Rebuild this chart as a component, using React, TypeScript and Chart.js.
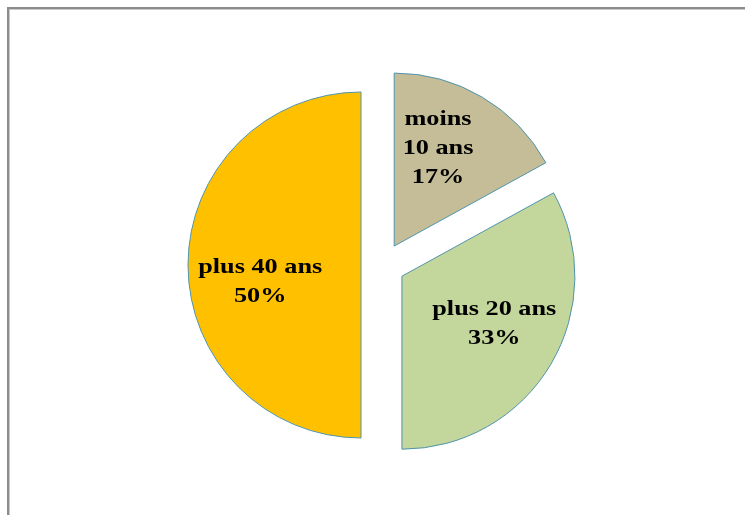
import React, { useEffect, useRef } from "react";
import { Chart, registerables } from "chart.js";

Chart.register(...registerables);

const categories: string[][] = [["moins", "10 ans", "17%"], ["plus 20 ans", "33%"], ["plus 40 ans", "50%"]];
const values: number[] = [17, 33, 50];
const colors: string[] = ["#C4BD97", "#C3D69B", "#FFC000"];
const labelNudge: number[][] = [[-9, -8], [3, -5], [3, 17]];

const EXPLODE = 22;
const RADIUS = 173;
const LABEL_FONT = "bold 21px 'Liberation Serif'";

const explodePlugin = {
  id: "explodeSlices",
  afterDatasetsUpdate(chart: any) {
    const meta = chart.getDatasetMeta(0);
    meta.data.forEach((arc: any) => {
      const mid = (arc.startAngle + arc.endAngle) / 2;
      arc.x += Math.cos(mid) * EXPLODE;
      arc.y += Math.sin(mid) * EXPLODE;
    });
  },
};

const labelPlugin = {
  id: "sliceLabels",
  afterDatasetsDraw(chart: any) {
    const ctx = chart.ctx;
    const meta = chart.getDatasetMeta(0);
    ctx.save();
    ctx.fillStyle = "#000";
    ctx.font = LABEL_FONT + ", 'Times New Roman', serif";
    ctx.textAlign = "center";
    ctx.textBaseline = "middle";
    meta.data.forEach((arc: any, i: number) => {
      const mid = (arc.startAngle + arc.endAngle) / 2;
      const r = arc.outerRadius * 0.6;
      const cx = arc.x + Math.cos(mid) * r + labelNudge[i][0];
      const cy = arc.y + Math.sin(mid) * r + labelNudge[i][1];
      const lines = categories[i];
      const lh = 29;
      const top = cy - ((lines.length - 1) * lh) / 2;
      lines.forEach((line, j) => {
        ctx.save();
        ctx.translate(cx, top + j * lh);
        ctx.scale(1.25, 1);
        ctx.fillText(line, 0, 0);
        ctx.restore();
      });
    });
    ctx.restore();
  },
};

export default function App() {
  const ref = useRef<HTMLCanvasElement | null>(null);
  useEffect(() => {
    let chart: Chart | null = null;
    let cancelled = false;
    const make = () => {
      if (cancelled || !ref.current) return;
      chart = new Chart(ref.current, {
        type: "pie",
        data: {
          labels: categories.map((c) => c.slice(0, -1).join(" ")),
          datasets: [
            {
              data: values,
              backgroundColor: colors,
              borderColor: "#4f94ad",
              borderWidth: 1,
            },
          ],
        },
        options: {
          responsive: false,
          animation: false,
          radius: RADIUS,
          layout: { padding: { left: 21, top: 15, right: 0, bottom: 0 } },
          plugins: {
            legend: { display: false },
            tooltip: { enabled: false },
          },
        } as any,
        plugins: [explodePlugin, labelPlugin],
      });
    };
    const fonts: any = (document as any).fonts;
    if (fonts && fonts.load) {
      fonts.load(LABEL_FONT, "plus 40 ans 50%").then(make, make);
    } else {
      make();
    }
    return () => {
      cancelled = true;
      if (chart) chart.destroy();
    };
  }, []);
  return (
    <div style={{ position: "fixed", left: 0, top: 0, width: 745, height: 515, background: "#fff", overflow: "hidden" }}>
      <div
        style={{
          position: "absolute",
          left: 7,
          top: 7,
          width: 760,
          height: 530,
          borderLeft: "2px solid #8c8c8c",
          borderTop: "2px solid #8c8c8c",
          boxShadow: "inset 1px 1px 0 #c8c8c8",
        }}
      />
      <canvas ref={ref} width={745} height={515} style={{ position: "absolute", left: 0, top: 0 }} />
    </div>
  );
}
